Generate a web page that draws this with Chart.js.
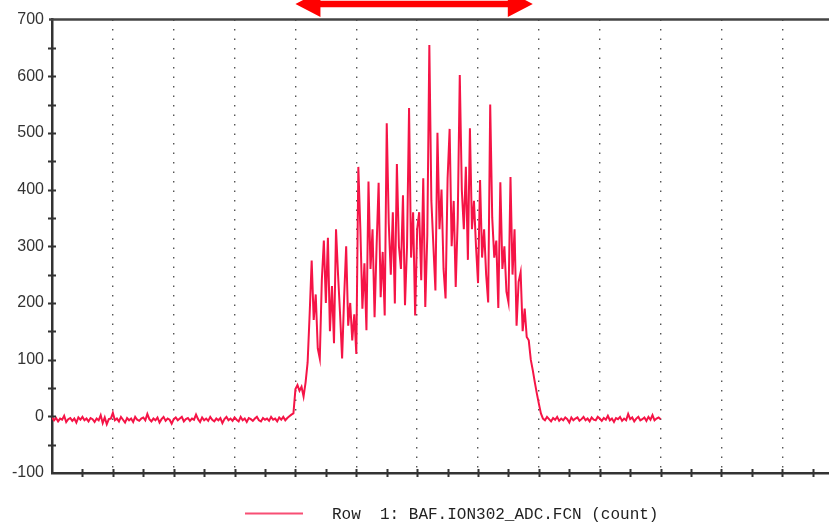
<!DOCTYPE html>
<html>
<head>
<meta charset="utf-8">
<script src="https://cdn.jsdelivr.net/npm/chart.js@4.4.1/dist/chart.umd.min.js"></script>
<style>
  html, body { margin: 0; padding: 0; background: #fff; overflow: hidden; }
</style>
</head>
<body>
<canvas id="plot" width="829" height="522"></canvas>
<script>
// samples 0..119: flat baseline before the pulse
const preSignal = [
  -2,-7,-3,-9,-4,-6,1,-10,-5,-3,
  -8,-4,-11,-2,-6,-1,-7,-4,-9,-3,
  -5,-10,-4,-7,2,-12,-2,-14,-5,-4,
  6,-7,-4,-9,-1,-6,-11,-3,-7,-4,
  -10,-1,-6,-8,-4,-2,-7,4,-5,-9,
  -4,-7,-2,-11,-5,-1,-8,-4,-6,-13,
  -5,-2,-7,-4,-1,-9,-5,-3,-8,-4,
  -6,3,-5,-10,-2,-7,-4,-8,-1,-6,
  -9,-4,-7,-3,-12,-5,-1,-7,-4,-8,
  -2,-6,-9,-1,-7,-4,-10,-3,-5,-8,
  -4,-1,-7,-9,-3,-6,-4,-8,-1,-6,
  -4,-9,-2,-6,-1,-7,-3,0,3,5
];
// samples 120..241: the pulse
const pulse = [
  48,55,45,52,35,60,95,180,275,170,
  215,120,102,240,310,200,315,150,230,129,
  330,250,180,102,210,300,160,200,134,180,
  110,440,330,190,270,152,414,260,330,175,
  300,412,210,290,178,517,340,250,360,199,
  445,300,260,390,196,300,544,280,360,178,
  330,360,240,420,193,320,655,380,300,222,
  500,330,400,260,208,420,507,300,380,228,
  350,602,400,330,440,276,508,330,380,300,
  235,417,280,330,250,201,550,350,280,310,
  191,413,260,300,220,201,422,250,330,160,
  237,254,150,190,140,134,100,81,60,40,
  22,5
];
// samples 242..300: baseline after the pulse
const postSignal = [
  -4,-7,-1,-5,-9,-3,-6,-1,-8,-4,
  -7,-2,-5,-11,-2,-7,-4,-2,-8,-5,
  -1,-7,-4,-9,-2,-6,-7,-1,-4,-8,
  -3,-6,1,-7,-4,-10,-3,-5,-1,-8,
  -4,-7,4,-5,-2,-9,-4,-1,-7,-5,
  -2,-8,-1,-6,2,-7,-4,-2,-5
];

const yMin = -100, yMax = 700, yStep = 50, yLabelStep = 100;
const xMax = 383, xMinor = 15, xMajor = 30;
const arrowSpan = [120, 237];   // sample range marked by the red arrow
const seriesLabel = 'Row  1: BAF.ION302_ADC.FCN (count)';
const lineColor = 'rgb(245,20,70)';

const samples = preSignal.concat(pulse, postSignal);
const points = samples.map((v, i) => ({ x: i, y: v }));

const extras = {
  id: 'extras',
  afterDraw(chart) {
    const { ctx, chartArea: a, scales: { x, y } } = chart;
    ctx.save();
    // heavy top frame line
    ctx.strokeStyle = '#444';
    ctx.lineWidth = 2.5;
    ctx.beginPath();
    ctx.moveTo(a.left - 3, a.top);
    ctx.lineTo(a.right, a.top);
    ctx.stroke();

    // tick marks crossing the axes
    ctx.strokeStyle = '#333';
    ctx.lineWidth = 2;
    ctx.beginPath();
    for (let v = xMinor; v <= xMax; v += xMinor) {
      const px = Math.round(x.getPixelForValue(v)) + 0.5;
      ctx.moveTo(px, a.bottom - 4);
      ctx.lineTo(px, a.bottom + 4);
    }
    for (let v = yMin + yStep; v < yMax; v += yStep) {
      const py = Math.round(y.getPixelForValue(v)) + 0.5;
      ctx.moveTo(a.left - 4, py);
      ctx.lineTo(a.left + 4, py);
    }
    ctx.stroke();

    // red double arrow
    const x0 = x.getPixelForValue(arrowSpan[0]);
    const x1 = x.getPixelForValue(arrowSpan[1]);
    const cy = 4, head = 25, hh = 13, sh = 3.3;
    ctx.fillStyle = '#ff0000';
    ctx.beginPath();
    ctx.moveTo(x0, cy);
    ctx.lineTo(x0 + head, cy - hh);
    ctx.lineTo(x0 + head, cy - sh);
    ctx.lineTo(x1 - head, cy - sh);
    ctx.lineTo(x1 - head, cy - hh);
    ctx.lineTo(x1, cy);
    ctx.lineTo(x1 - head, cy + hh);
    ctx.lineTo(x1 - head, cy + sh);
    ctx.lineTo(x0 + head, cy + sh);
    ctx.lineTo(x0 + head, cy + hh);
    ctx.closePath();
    ctx.fill();

    // legend
    ctx.strokeStyle = lineColor;
    ctx.globalAlpha = 0.75;
    ctx.lineWidth = 2;
    ctx.beginPath();
    ctx.moveTo(245, 513.5);
    ctx.lineTo(303, 513.5);
    ctx.stroke();
    ctx.globalAlpha = 1;
    ctx.fillStyle = '#222';
    ctx.font = '16px "Liberation Mono", "DejaVu Sans Mono", monospace';
    ctx.textBaseline = 'alphabetic';
    ctx.textAlign = 'left';
    ctx.fillText(seriesLabel, 332, 519);
    ctx.restore();
  }
};

new Chart(document.getElementById('plot'), {
  type: 'line',
  data: {
    datasets: [{
      label: seriesLabel,
      data: points,
      borderColor: lineColor,
      borderWidth: 2,
      pointRadius: 0,
      tension: 0,
      fill: false
    }]
  },
  options: {
    responsive: false,
    animation: false,
    devicePixelRatio: 1,
    layout: { padding: { top: 19.5, left: 0, right: 0, bottom: 0 } },
    plugins: { legend: { display: false }, tooltip: { enabled: false } },
    scales: {
      x: {
        type: 'linear',
        min: 0,
        max: xMax,
        afterFit: s => { s.height = 49; },
        ticks: { display: false, stepSize: xMinor },
        grid: {
          drawTicks: false,
          lineWidth: 1.4,
          color: c => (c.tick && c.tick.value > 0 && c.tick.value % xMajor === 0) ? '#555' : 'rgba(0,0,0,0)'
        },
        border: { display: true, color: '#333', width: 2.5, dash: [1.5, 8] }
      },
      y: {
        min: yMin,
        max: yMax,
        afterFit: s => { s.width = 52; },
        ticks: {
          stepSize: yStep,
          padding: 8,
          color: '#333',
          font: { family: '"Liberation Sans", Arial, sans-serif', size: 16 },
          callback: v => (v % yLabelStep === 0 ? v : '')
        },
        grid: { display: false, drawTicks: false },
        border: { display: true, color: '#333', width: 2.5 }
      }
    }
  },
  plugins: [extras]
});
</script>
</body>
</html>
